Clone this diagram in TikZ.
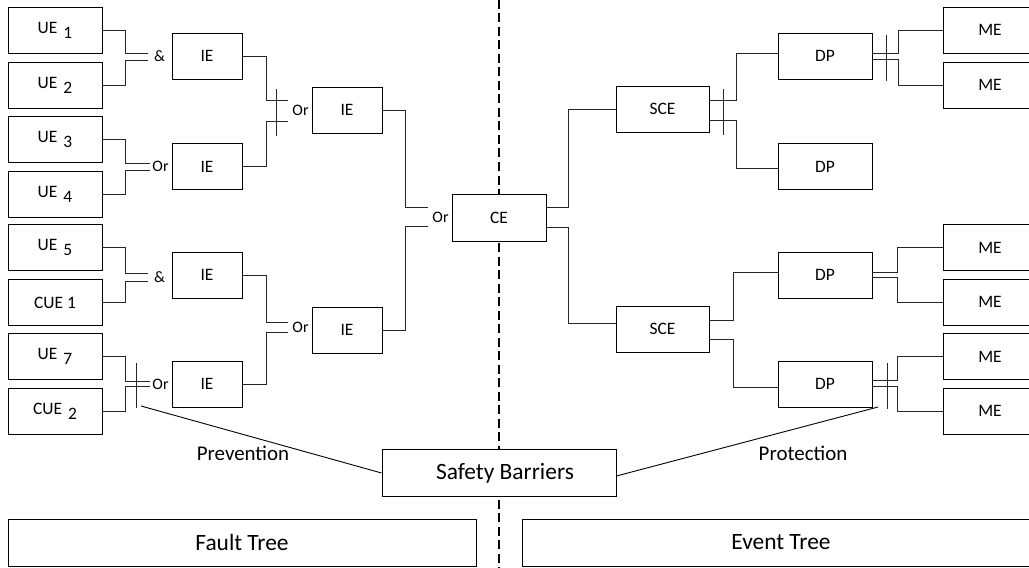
\documentclass[tikz,border=0pt]{standalone}
\usepackage{fontspec}
\setmainfont{Carlito}
\newcommand\lowered[1]{\hskip6bp\raisebox{-5bp}{#1}}
\begin{document}
\begin{tikzpicture}[x=1bp,y=-1bp,
  box/.style={draw=black,line width=0.9bp,fill=white,inner sep=0pt,minimum width=94bp,minimum height=46bp,font=\fontsize{17.5}{20}\selectfont},
  ibox/.style={box,minimum width=70bp},
  bigbox/.style={box,minimum height=47bp,font=\fontsize{23.5}{27}\selectfont},
  wire/.style={line width=0.9bp,black!85},
  gate/.style={inner sep=0pt,font=\fontsize{16}{18}\selectfont},
  lbl/.style={inner sep=0pt,font=\fontsize{21}{25}\selectfont},
  divider/.style={line width=2.6bp,black,dash pattern=on 9bp off 4.5bp}]
\clip (0,0) rectangle (1029,568);
% divider
\coordinate (dtop) at (499,0);
\coordinate (dbot) at (499,568);
\draw[divider] (dtop) -- (dbot);
% left basic events
\node[box] (ue1) at (55,30) {UE\lowered{1}};
\node[box] (ue2) at (55,85) {UE\lowered{2}};
\node[box] (ue3) at (55,139.5) {UE\lowered{3}};
\node[box] (ue4) at (55,194) {UE\lowered{4}};
\node[box] (ue5) at (55,247.5) {UE\lowered{5}};
\node[box] (cue1) at (55,302.5) {CUE 1};
\node[box] (ue7) at (55,356.5) {UE\lowered{7}};
\node[box] (cue2) at (55,411) {CUE\lowered{2}};
% intermediate events
\node[ibox] (ie1) at (207,56) {IE};
\node[ibox] (ie2) at (207,166.5) {IE};
\node[ibox] (ie4) at (207,275) {IE};
\node[ibox] (ie5) at (207,384) {IE};
\node[ibox] (ie3) at (347,110) {IE};
\node[ibox] (ie6) at (347,330) {IE};
% central event
\node[box,minimum height=47bp] (ce) at (499,217.5) {CE};
% right side
\node[box,minimum width=93bp] (sce1) at (662.5,109) {SCE};
\node[box,minimum width=93bp] (sce2) at (662.5,329) {SCE};
\node[box] (dp1) at (825,56) {DP};
\node[box] (dp2) at (825,166.5) {DP};
\node[box] (dp3) at (825,275) {DP};
\node[box] (dp4) at (825,384) {DP};
\node[box] (me1) at (990,30) {ME};
\node[box] (me2) at (990,85) {ME};
\node[box] (me3) at (990,247.5) {ME};
\node[box] (me4) at (990,302) {ME};
\node[box] (me5) at (990,356.5) {ME};
\node[box] (me6) at (990,411) {ME};
% bottom
\node[bigbox,minimum width=234bp] (sb) at (499,473) {\hskip12bp Safety Barriers};
\node[bigbox,minimum width=468bp] (ft) at (242,542.5) {Fault Tree};
\node[bigbox,minimum width=518bp] (et) at (781,542.5) {Event Tree};
% gate A (&)
\coordinate (a1) at ([xshift=-24bp,yshift=3bp]ie1.west);
\coordinate (a2) at ([xshift=-24bp,yshift=-4bp]ie1.west);
\draw[wire] (ue1.east) -- ++(23,0) |- (a1);
\draw[wire] (ue2.east) -- ++(23,0) |- (a2);
\node[gate] (gA) at ([xshift=-12bp,yshift=-0.5bp]ie1.west) {\&};
% gate B (Or)
\coordinate (b1) at ([xshift=-22bp,yshift=3.5bp]ie2.west);
\coordinate (b2) at ([xshift=-22bp,yshift=-3.5bp]ie2.west);
\draw[wire] (ue3.east) -- ++(23,0) |- (b1);
\draw[wire] (ue4.east) -- ++(23,0) |- (b2);
\node[gate] (gB) at ([xshift=-11bp]ie2.west) {Or};
% gate C (Or, barrier)
\coordinate (c1) at ([xshift=-24bp,yshift=10bp]ie3.west);
\coordinate (c2) at ([xshift=-24bp,yshift=-11bp]ie3.west);
\draw[wire] (ie1.east) -- ++(24,0) |- (c1);
\draw[wire] (ie2.east) -- ++(24,0) |- (c2);
\coordinate (cb1) at ([xshift=-35bp,yshift=21bp]ie3.west);
\coordinate (cb2) at ([xshift=-35bp,yshift=-26bp]ie3.west);
\draw[wire] (cb1) -- (cb2);
\node[gate] (gC) at ([xshift=-11bp,yshift=-0.5bp]ie3.west) {Or};
% gate D (&)
\coordinate (d1) at ([xshift=-24bp,yshift=2bp]ie4.west);
\coordinate (d2) at ([xshift=-24bp,yshift=-6bp]ie4.west);
\draw[wire] (ue5.east) -- ++(23,0) |- (d1);
\draw[wire] (cue1.east) -- ++(23,0) |- (d2);
\node[gate] (gD) at ([xshift=-12bp,yshift=-2bp]ie4.west) {\&};
% gate E (Or, barrier)
\coordinate (e1) at ([xshift=-22bp,yshift=3bp]ie5.west);
\coordinate (e2) at ([xshift=-22bp,yshift=-2bp]ie5.west);
\draw[wire] (ue7.east) -- ++(23,0) |- (e1);
\draw[wire] (cue2.east) -- ++(23,0) |- (e2);
\coordinate (eb1) at ([xshift=-35bp,yshift=21bp]ie5.west);
\coordinate (eb2) at ([xshift=-35bp,yshift=-24bp]ie5.west);
\draw[wire] (eb1) -- (eb2);
\node[gate] (gE) at ([xshift=-11bp]ie5.west) {Or};
% gate F (Or)
\coordinate (f1) at ([xshift=-24bp,yshift=8bp]ie6.west);
\coordinate (f2) at ([xshift=-24bp,yshift=-2bp]ie6.west);
\draw[wire] (ie4.east) -- ++(24,0) |- (f1);
\draw[wire] (ie5.east) -- ++(24,0) |- (f2);
\node[gate] (gF) at ([xshift=-11bp,yshift=3bp]ie6.west) {Or};
% gate G (Or)
\coordinate (g1) at ([xshift=-24bp,yshift=10.5bp]ce.west);
\coordinate (g2) at ([xshift=-24bp,yshift=-8.5bp]ce.west);
\draw[wire] (ie3.east) -- ++(23,0) |- (g1);
\draw[wire] (ie6.east) -- ++(23,0) |- (g2);
\node[gate] (gG) at ([xshift=-11bp,yshift=0.5bp]ce.west) {Or};
% CE to SCE
\draw[wire] ([yshift=10.5bp]ce.east) -- ++(22,0) |- (sce1.west);
\draw[wire] ([yshift=-9.5bp]ce.east) -- ++(22,0) |- ([yshift=6bp]sce2.west);
% SCE1 to DP (barrier)
\draw[wire] ([yshift=9bp]sce1.east) -- ++(27,0) |- ([yshift=3bp]dp1.west);
\draw[wire] ([yshift=-11bp]sce1.east) -- ++(27,0) |- ([yshift=-1.5bp]dp2.west);
\coordinate (sb1) at ([xshift=14bp,yshift=20bp]sce1.east);
\coordinate (sb2) at ([xshift=14bp,yshift=-26bp]sce1.east);
\draw[wire] (sb1) -- (sb2);
% SCE2 to DP
\draw[wire] ([yshift=9bp]sce2.east) -- ++(24,0) |- ([yshift=3bp]dp3.west);
\draw[wire] ([yshift=-10bp]sce2.east) -- ++(24,0) |- ([yshift=-3bp]dp4.west);
% DP1 to ME (barrier)
\draw[wire] ([yshift=2.5bp]dp1.east) -- ++(26,0) |- (me1.west);
\draw[wire] ([yshift=-3.5bp]dp1.east) -- ++(26,0) |- (me2.west);
\coordinate (pb1) at ([xshift=14bp,yshift=21bp]dp1.east);
\coordinate (pb2) at ([xshift=14bp,yshift=-25bp]dp1.east);
\draw[wire] (pb1) -- (pb2);
% DP3 to ME
\draw[wire] ([yshift=3bp]dp3.east) -- ++(25,0) |- (me3.west);
\draw[wire] ([yshift=-2.5bp]dp3.east) -- ++(25,0) |- (me4.west);
% DP4 to ME (barrier)
\draw[wire] ([yshift=3.5bp]dp4.east) -- ++(25,0) |- (me5.west);
\draw[wire] ([yshift=-2.5bp]dp4.east) -- ++(25,0) |- (me6.west);
\coordinate (qb1) at ([xshift=15bp,yshift=21bp]dp4.east);
\coordinate (qb2) at ([xshift=15bp,yshift=-25bp]dp4.east);
\draw[wire] (qb1) -- (qb2);
% safety barrier links
\coordinate (pv) at (141,406);
\coordinate (pt) at (878,407);
\draw[line width=0.9bp,black] (pv) -- (sb.west);
\draw[line width=0.9bp,black] (pt) -- ([yshift=-3bp]sb.east);
\node[lbl] (prev) at (243,453) {Prevention};
\node[lbl] (prot) at (803,453) {Protection};
\end{tikzpicture}
\end{document}
